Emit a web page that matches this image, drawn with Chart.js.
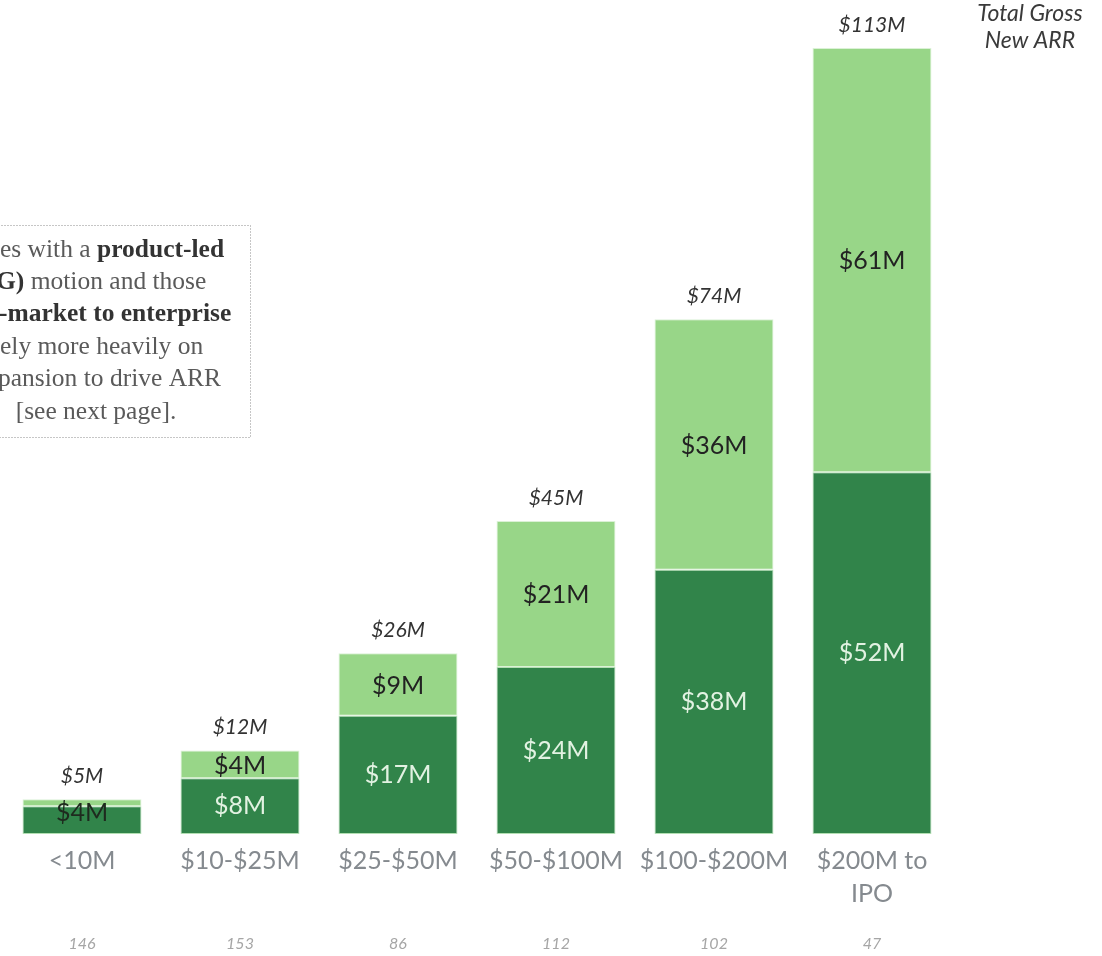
<!DOCTYPE html>
<html>
<head>
<meta charset="utf-8">
<title>Gross New ARR by ARR band</title>
<script src="https://cdn.jsdelivr.net/npm/chart.js@4/dist/chart.umd.min.js"></script>
<style>
  html, body { margin: 0; padding: 0; background: #fff; }
  #wrap { position: relative; width: 1102px; height: 956px; }
</style>
</head>
<body>
<div id="wrap"><canvas id="arrChart"></canvas></div>
<script>
// ARR bands and company counts
const bands = [["<10M"], ["$10-$25M"], ["$25-$50M"], ["$50-$100M"], ["$100-$200M"], ["$200M to", "IPO"]];
const companyCounts = [146, 153, 86, 112, 102, 47];

// $M of gross new ARR, split in two parts
const darkPart = [4, 8, 17, 24, 38, 52];
const lightPart = [1, 4, 9, 21, 36, 61];
const totals = [5, 12, 26, 45, 74, 113];
const showLightLabel = [false, true, true, true, true, true];

const DARK = '#31844a';
const LIGHT = '#98d688';
const SANS = 'Lato, "Open Sans", sans-serif';
const SERIF = '"Liberation Serif", "DejaVu Serif", serif';

// note box on the left (cut off by the page edge)
const noteLines = [
  { left: 0, parts: [["es with a ", false], ["product-led", true]] },
  { left: -4, parts: [["G)", true], [" motion and those", false]] },
  { left: -1, parts: [["-market to enterprise", true]] },
  { left: 0, parts: [["ely more heavily on", false]] },
  { left: -2, parts: [["pansion to drive ARR", false]] },
  { center: 96, parts: [["[see next page].", false]] }
];

const labelsPlugin = {
  id: 'labels',
  afterDatasetsDraw(chart) {
    const ctx = chart.ctx;
    const darkMeta = chart.getDatasetMeta(0);
    const lightMeta = chart.getDatasetMeta(1);
    ctx.save();
    ctx.textAlign = 'center';
    ctx.textBaseline = 'middle';
    ctx.font = '25px ' + SANS;

    darkMeta.data.forEach((bar, i) => {
      const h = bar.base - bar.y;
      ctx.fillStyle = h < 30 ? '#1e2a1e' : '#e2f2e2';
      const y = h < 30 ? bar.y + 7 : (bar.y + bar.base) / 2;
      ctx.fillText('$' + darkPart[i] + 'M', bar.x, y);
    });

    lightMeta.data.forEach((bar, i) => {
      if (!showLightLabel[i]) return;
      ctx.fillStyle = '#222';
      ctx.fillText('$' + lightPart[i] + 'M', bar.x, (bar.y + bar.base) / 2 + 1);
    });

    // totals above each stack
    ctx.font = 'italic 21px ' + SANS;
    ctx.fillStyle = '#333';
    lightMeta.data.forEach((bar, i) => {
      const top = chart.scales.y.getPixelForValue(totals[i]);
      ctx.fillText('$' + totals[i] + 'M', bar.x, top - 23);
    });

    // company counts under the axis
    ctx.font = 'italic 16px ' + SANS;
    ctx.fillStyle = '#a6a6a6';
    companyCounts.forEach((n, i) => {
      ctx.fillText(String(n), chart.scales.x.getPixelForValue(i), 944);
    });

    // series title
    ctx.font = 'italic 23px ' + SANS;
    ctx.fillStyle = '#3a3a3a';
    ctx.fillText('Total Gross', 1030, 14);
    ctx.fillText('New ARR', 1030, 41);

    // note box
    ctx.strokeStyle = '#8c8c8c';
    ctx.lineWidth = 1;
    ctx.setLineDash([1, 2]);
    ctx.strokeRect(-1.5, 225.5, 252, 212);
    ctx.setLineDash([]);
    ctx.textAlign = 'left';
    const fontOf = bold => (bold ? 'bold ' : '') + '25.5px ' + SERIF;
    noteLines.forEach((line, k) => {
      let width = 0;
      line.parts.forEach(([txt, bold]) => {
        ctx.font = fontOf(bold);
        width += ctx.measureText(txt).width;
      });
      let x = line.center !== undefined ? line.center - width / 2 : line.left;
      const y = 250 + k * 32.4;
      line.parts.forEach(([txt, bold]) => {
        ctx.font = fontOf(bold);
        ctx.fillStyle = bold ? '#333' : '#5a5a5a';
        ctx.fillText(txt, x, y);
        x += ctx.measureText(txt).width;
      });
    });
    ctx.restore();
  }
};

new Chart(document.getElementById('arrChart'), {
  type: 'bar',
  data: {
    labels: bands,
    datasets: [
      {
        label: 'Part 1',
        data: darkPart,
        backgroundColor: DARK,
        borderColor: 'rgba(170, 220, 170, 0.9)',
        borderWidth: 1,
        borderSkipped: false,
        barPercentage: 0.753,
        categoryPercentage: 1
      },
      {
        label: 'Part 2',
        data: lightPart,
        backgroundColor: LIGHT,
        borderColor: 'rgba(215, 240, 210, 0.9)',
        borderWidth: 1,
        borderSkipped: false,
        barPercentage: 0.753,
        categoryPercentage: 1
      }
    ]
  },
  options: {
    responsive: true,
    maintainAspectRatio: false,
    animation: false,
    layout: { padding: { left: 3, right: 151, top: 48, bottom: 36 } },
    plugins: {
      legend: { display: false },
      tooltip: { enabled: false }
    },
    scales: {
      x: {
        stacked: true,
        grid: { display: false, drawTicks: false },
        border: { display: false },
        ticks: {
          color: '#858a8f',
          font: { family: SANS, size: 25, lineHeight: 1.32 },
          padding: 10,
          maxRotation: 0,
          autoSkip: false
        }
      },
      y: {
        stacked: true,
        display: false,
        min: 0,
        max: 113
      }
    }
  },
  plugins: [labelsPlugin]
});
</script>
</body>
</html>
